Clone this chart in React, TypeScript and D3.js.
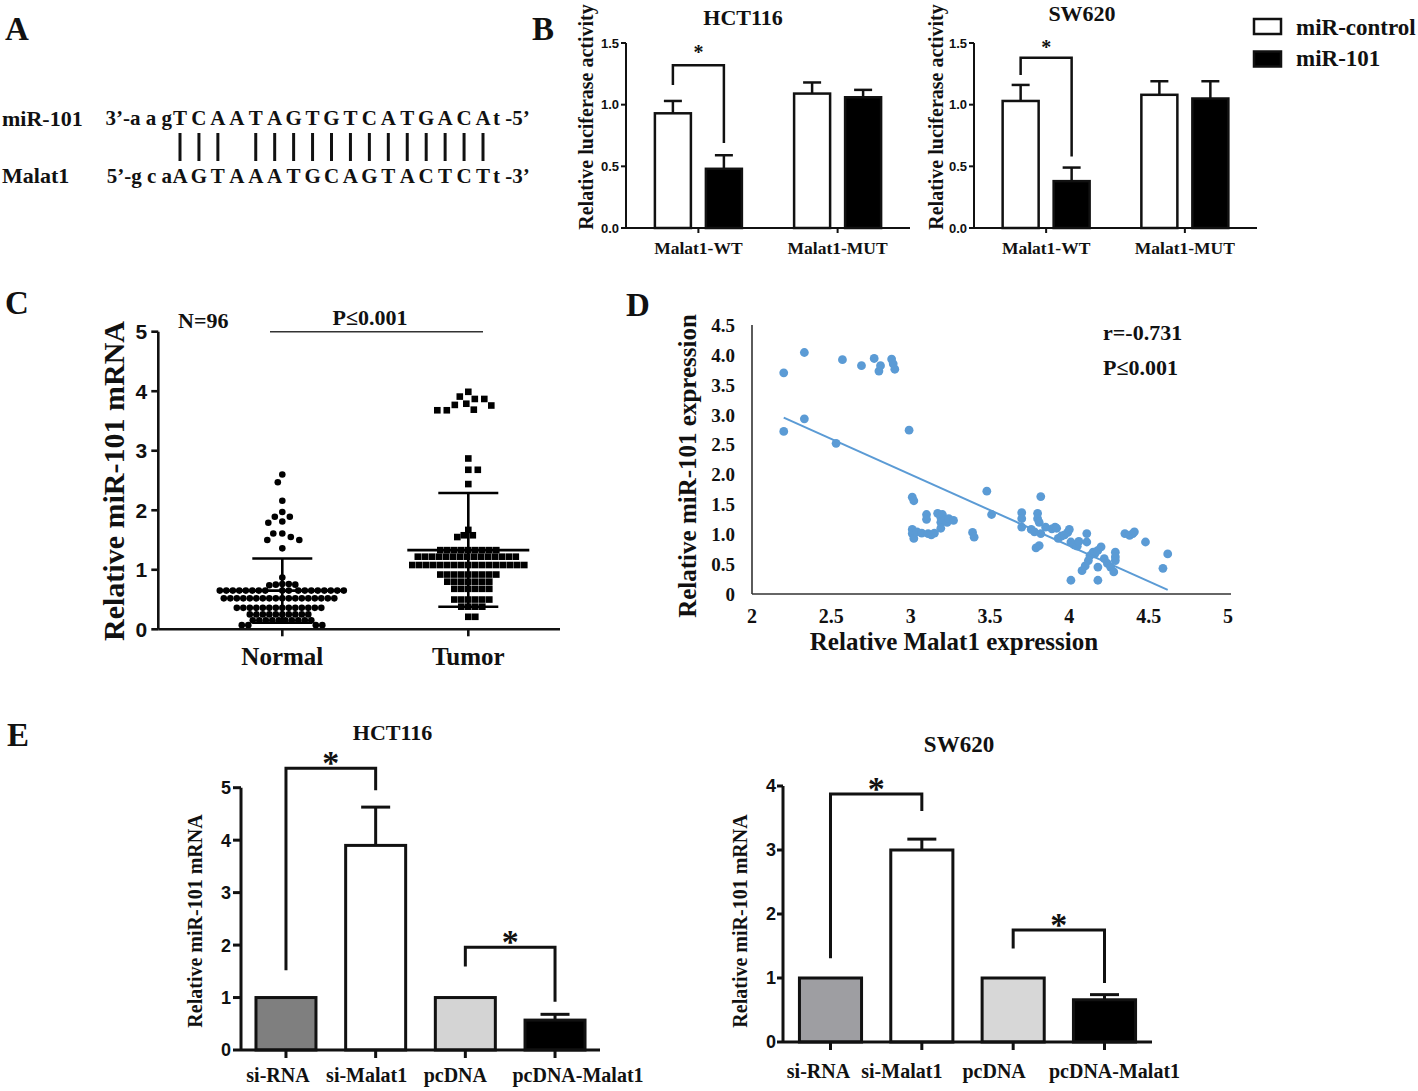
import React from "react";
import * as d3 from "d3";

const SERIF = "'Liberation Serif','Times New Roman',Times,serif";
const SANS = "'Liberation Sans',Arial,Helvetica,sans-serif";
const INK = "#111";

// ---------------- Panel A : sequence alignment ----------------
const mirLabel = "miR-101";
const malatLabel = "Malat1";
const mirPrefix = "3’-a a g";
const mirSuffix = "t -5’";
const malatPrefix = "5’-g c a";
const malatSuffix = "t -3’";
const mirCore = ["T", "C", "A", "A", "T", "A", "G", "T", "G", "T", "C", "A", "T", "G", "A", "C", "A"];
const malatCore = ["A", "G", "T", "A", "A", "A", "T", "G", "C", "A", "G", "T", "A", "C", "T", "C", "T"];
const paired = [1, 1, 1, 0, 1, 1, 1, 1, 1, 1, 1, 1, 1, 1, 1, 1, 1];

// ---------------- Panel B : luciferase ----------------
const lucGroups = ["Malat1-WT", "Malat1-MUT"];
const lucSeries = ["miR-control", "miR-101"];
const lucTicks = [0, 0.5, 1.0, 1.5];
const hctControl = [0.93, 1.09];
const hctControlErr = [0.10, 0.09];
const hctMir = [0.48, 1.06];
const hctMirErr = [0.11, 0.06];
const hctBracket = [1.16, 1.32, 0.69]; // left leg end, top, right leg end
const swControl = [1.03, 1.08];
const swControlErr = [0.13, 0.11];
const swMir = [0.38, 1.05];
const swMirErr = [0.11, 0.14];
const swBracket = [1.24, 1.38, 0.58];

// ---------------- Panel C : scatter Normal vs Tumor ----------------
const cGroups = ["Normal", "Tumor"];
const cTicks = [0, 1, 2, 3, 4, 5];
const normalValues = [
  2.60, 2.47, 2.16, 1.97, 1.89, 1.89, 1.81, 1.79, 1.61, 1.61, 1.55, 1.50, 1.50, 1.36,
  0.87,
  0.76, 0.76, 0.75, 0.75, 0.74,
  0.65, 0.65, 0.65, 0.65, 0.65, 0.65, 0.65, 0.65, 0.65, 0.65, 0.65, 0.65, 0.65, 0.65, 0.65, 0.65, 0.65, 0.65,
  0.52, 0.52, 0.52, 0.52, 0.52, 0.52, 0.52, 0.52, 0.52, 0.52, 0.52, 0.52, 0.52, 0.52, 0.52, 0.52, 0.52, 0.52,
  0.36, 0.36, 0.36, 0.36, 0.36, 0.36, 0.36, 0.36, 0.36, 0.36, 0.36, 0.36, 0.36, 0.36,
  0.25, 0.25, 0.25, 0.25, 0.25, 0.25, 0.25, 0.25, 0.25, 0.25,
  0.15, 0.15, 0.15, 0.15, 0.15, 0.15, 0.15, 0.15, 0.15, 0.15,
  0.07, 0.07, 0.07, 0.07,
];
const tumorValues = [
  3.99, 3.91, 3.87, 3.87, 3.79, 3.77, 3.76, 3.69, 3.68, 3.68,
  2.87, 2.68, 2.68, 2.44,
  1.67, 1.58, 1.58, 1.55,
  1.33, 1.33, 1.33, 1.33, 1.33, 1.33, 1.33, 1.33, 1.33,
  1.22, 1.22, 1.22, 1.22, 1.22, 1.22, 1.22, 1.22, 1.22, 1.22, 1.22, 1.22, 1.22, 1.22, 1.22,
  1.08, 1.08, 1.08, 1.08, 1.08, 1.08, 1.08, 1.08, 1.08, 1.08, 1.08, 1.08, 1.08, 1.08, 1.08, 1.08, 1.08,
  0.92, 0.92, 0.92, 0.92, 0.92, 0.92, 0.92, 0.92, 0.92,
  0.80, 0.80, 0.80, 0.80, 0.80, 0.80, 0.80,
  0.68, 0.68, 0.68, 0.68, 0.68, 0.68,
  0.50, 0.50, 0.50, 0.50, 0.50, 0.50,
  0.38, 0.38, 0.38, 0.38,
  0.21, 0.21,
];
const cMean = [0.65, 1.33];
const cSdLow = [0.11, 0.38];
const cSdHigh = [1.19, 2.29];

// ---------------- Panel D : correlation ----------------
const dXTicks = [2, 2.5, 3, 3.5, 4, 4.5, 5];
const dYTicks = [0, 0.5, 1.0, 1.5, 2.0, 2.5, 3.0, 3.5, 4.0, 4.5];
const malatExpr = [
  2.20, 2.20, 2.33, 2.33, 2.53, 2.57, 2.69, 2.77, 2.80, 2.81, 2.88, 2.89, 2.90, 2.99,
  3.01, 3.02, 3.01, 3.01, 3.02, 3.04, 3.07, 3.10, 3.10, 3.11, 3.13, 3.15, 3.17, 3.19, 3.20, 3.19, 3.21, 3.19, 3.23, 3.24, 3.27, 3.39, 3.40, 3.48, 3.51,
  3.70, 3.70, 3.70, 3.76, 3.78, 3.82, 3.80, 3.80, 3.81, 3.82, 3.79, 3.81, 3.85, 3.89, 3.91, 3.92, 3.93, 3.95, 3.97, 3.99, 4.00, 4.01, 4.03, 4.05, 4.06, 4.11, 4.11,
  4.01, 4.08, 4.10, 4.12, 4.13, 4.15, 4.16, 4.18, 4.20, 4.18, 4.18, 4.22, 4.24, 4.26, 4.28, 4.29, 4.29, 4.29,
  4.35, 4.38, 4.40, 4.41, 4.48, 4.59, 4.62,
];
const mirExpr = [
  3.70, 2.72, 4.04, 2.93, 2.52, 3.92, 3.82, 3.94, 3.73, 3.82, 3.93, 3.85, 3.76, 2.74,
  1.62, 1.56, 1.08, 1.01, 0.93, 1.04, 1.02, 1.33, 1.25, 1.01, 0.99, 1.02, 1.35, 1.28, 1.33, 1.20, 1.23, 1.10, 1.20, 1.26, 1.23, 1.03, 0.95, 1.72, 1.33,
  1.36, 1.26, 1.12, 1.08, 1.04, 1.01, 1.35, 1.26, 1.20, 1.63, 0.77, 0.81, 1.12, 1.09, 1.12, 1.10, 0.93, 0.97, 0.99, 1.03, 1.08, 0.87, 0.82, 0.80, 0.88, 1.01, 0.87,
  0.23, 0.39, 0.47, 0.56, 0.64, 0.70, 0.67, 0.73, 0.79, 0.45, 0.23, 0.59, 0.51, 0.45, 0.37, 0.56, 0.70, 0.62,
  1.01, 0.98, 1.01, 1.04, 0.87, 0.43, 0.67,
];
const trendRange = [2.2, 4.62];
const trendIntercept = 5.568;
const trendSlope = -1.19;

// ---------------- Panel E : miR-101 after Malat1 modulation ----------------
const eCats = ["si-RNA", "si-Malat1", "pcDNA", "pcDNA-Malat1"];
const hctMiR = [1.0, 3.9, 1.0, 0.57];
const hctMiRErr = [0, 0.73, 0, 0.11];
const swMiR = [1.0, 3.0, 1.0, 0.66];
const swMiRErr = [0, 0.17, 0, 0.08];
const hctFills = ["#7f7f7f", "#ffffff", "#d4d4d4", "#000000"];
const swFills = ["#9e9ea2", "#ffffff", "#d7d7d7", "#000000"];
const hctTicks = [0, 1, 2, 3, 4, 5];
const swTicks = [0, 1, 2, 3, 4];
// [leftBar, rightBar, leftLegEnd, top, rightLegEnd]
const hctBrackets = [[0, 1, 1.52, 5.37, 4.95], [2, 3, 1.59, 1.96, 0.92]];
const swBrackets = [[0, 1, 1.31, 3.875, 3.61], [2, 3, 1.46, 1.75, 0.92]];

// ---------------- helpers ----------------
// Beeswarm placement: each point takes the smallest horizontal offset that does not
// collide with points already placed. Points above the SD cap get a looser spacing.
function beeswarm(values: number[], yPos: (v: number) => number, gap: number, looseAbove: number, looseGap: number) {
  const placed: { dx: number; y: number; v: number }[] = [];
  values.forEach((v, i) => {
    const py = yPos(v);
    const first = i % 2 === 0 ? 1 : -1;
    let chosen = 0;
    outer: for (let s = 0; s < 800; s++) {
      const m = s * 0.5;
      const cands = m === 0 ? [0] : [first * m, -first * m];
      for (const c of cands) {
        let ok = true;
        for (const p of placed) {
          const g = v > looseAbove && p.v > looseAbove ? looseGap : gap;
          const a = p.dx - c;
          const b = p.y - py;
          if (a * a + b * b < g * g - 1e-6) {
            ok = false;
            break;
          }
        }
        if (ok) {
          chosen = c;
          break outer;
        }
      }
    }
    placed.push({ dx: chosen, y: py, v });
  });
  return placed;
}

function Star({ x, cy, size }: { x: number; cy: number; size: number }) {
  return (
    <text x={x} y={cy + size * 0.48} textAnchor="middle" fontFamily={SERIF} fontWeight="bold" fontSize={size} fill={INK}>
      *
    </text>
  );
}

// ---------------- Panel A ----------------
function PanelA() {
  const col = d3.scalePoint<number>().domain(d3.range(mirCore.length)).range([180, 483]);
  const fs = 21;
  return (
    <g fontFamily={SERIF} fontWeight="bold" fill={INK}>
      <text x={2} y={126} fontSize={22}>{mirLabel}</text>
      <text x={2} y={183} fontSize={22}>{malatLabel}</text>
      <text x={172} y={125} fontSize={fs} textAnchor="end">{mirPrefix}</text>
      {mirCore.map((c, i) => (
        <text key={"u" + i} x={col(i)} y={125} fontSize={fs} textAnchor="middle">{c}</text>
      ))}
      <text x={493} y={125} fontSize={fs}>{mirSuffix}</text>
      <text x={172} y={183} fontSize={fs} textAnchor="end">{malatPrefix}</text>
      {malatCore.map((c, i) => (
        <text key={"l" + i} x={col(i)} y={183} fontSize={fs} textAnchor="middle">{c}</text>
      ))}
      <text x={493} y={183} fontSize={fs}>{malatSuffix}</text>
      {paired.map((p, i) =>
        p ? <line key={"b" + i} x1={col(i)} x2={col(i)} y1={133} y2={161} stroke={INK} strokeWidth={3} /> : null
      )}
    </g>
  );
}

// ---------------- Panel B ----------------
function LucPanel(props: {
  axisX: number; axisEnd: number; title: string; titleX: number; titleBase: number;
  control: number[]; controlErr: number[]; mir: number[]; mirErr: number[]; bracket: number[];
  ylabX: number; starGap: number;
}) {
  const { axisX, axisEnd, title, titleX, titleBase, control, controlErr, mir, mirErr, bracket, ylabX, starGap } = props;
  const y = d3.scaleLinear().domain([0, 1.5]).range([228, 43]);
  const gx = d3.scalePoint<string>().domain(lucGroups).range([axisX, axisEnd]).padding(0.52);
  const sx = d3.scaleBand<string>().domain(lucSeries).range([-43.5, 43.5]).paddingInner(0.294);
  const bw = sx.bandwidth();
  const series = [
    { key: lucSeries[0], vals: control, errs: controlErr, fill: "#fff" },
    { key: lucSeries[1], vals: mir, errs: mirErr, fill: "#000" },
  ];
  const xl = (gx(lucGroups[0]) as number) + (sx(lucSeries[0]) as number) + bw / 2;
  const xr = (gx(lucGroups[0]) as number) + (sx(lucSeries[1]) as number) + bw / 2;
  return (
    <g>
      <text x={titleX} y={titleBase} textAnchor="middle" fontFamily={SERIF} fontWeight="bold" fontSize={22} fill={INK}>{title}</text>
      <text transform={`translate(${ylabX},117) rotate(-90)`} textAnchor="middle" fontFamily={SERIF} fontWeight="bold" fontSize={20} fill={INK}>
        Relative luciferase activity
      </text>
      {series.map((s) =>
        lucGroups.map((g, gi) => {
          const x0 = (gx(g) as number) + (sx(s.key) as number);
          const cx = x0 + bw / 2;
          const top = y(s.vals[gi]);
          const et = y(s.vals[gi] + s.errs[gi]);
          return (
            <g key={s.key + g}>
              <line x1={cx} x2={cx} y1={top} y2={et} stroke={INK} strokeWidth={2.5} />
              <line x1={cx - 9} x2={cx + 9} y1={et} y2={et} stroke={INK} strokeWidth={2.5} />
              <rect x={x0} y={top} width={bw} height={y(0) - top} fill={s.fill} stroke={INK} strokeWidth={2.5} />
            </g>
          );
        })
      )}
      <line x1={axisX} x2={axisX} y1={y(0)} y2={y(1.5)} stroke={INK} strokeWidth={2} />
      <line x1={axisX} x2={axisEnd} y1={y(0)} y2={y(0)} stroke={INK} strokeWidth={2} />
      {lucTicks.map((t) => (
        <g key={t}>
          <line x1={axisX - 5} x2={axisX} y1={y(t)} y2={y(t)} stroke={INK} strokeWidth={2} />
          <text x={axisX - 7} y={y(t)} dy="0.36em" textAnchor="end" fontFamily={SANS} fontWeight="bold" fontSize={13} fill={INK}>
            {t.toFixed(1)}
          </text>
        </g>
      ))}
      {lucGroups.map((g) => (
        <g key={g}>
          <line x1={gx(g)} x2={gx(g)} y1={y(0)} y2={y(0) + 5} stroke={INK} strokeWidth={2} />
          <text x={gx(g)} y={254} textAnchor="middle" fontFamily={SERIF} fontWeight="bold" fontSize={17.5} fill={INK}>{g}</text>
        </g>
      ))}
      <path d={`M${xl},${y(bracket[0])}V${y(bracket[1])}H${xr}V${y(bracket[2])}`} fill="none" stroke={INK} strokeWidth={2.5} />
      <Star x={(xl + xr) / 2} cy={y(bracket[1]) - starGap} size={20} />
    </g>
  );
}

function Legend() {
  const items = [
    { label: lucSeries[0], fill: "#fff", y: 19, base: 35 },
    { label: lucSeries[1], fill: "#000", y: 51.5, base: 66 },
  ];
  return (
    <g>
      {items.map((it) => (
        <g key={it.label}>
          <rect x={1254} y={it.y} width={27} height={15} fill={it.fill} stroke={INK} strokeWidth={2.5} />
          <text x={1296} y={it.base} fontFamily={SERIF} fontWeight="bold" fontSize={23} fill={INK}>{it.label}</text>
        </g>
      ))}
    </g>
  );
}

// ---------------- Panel C ----------------
function PanelC() {
  const y = d3.scaleLinear().domain([0, 5]).range([629.3, 331.7]);
  const x = d3.scalePoint<string>().domain(cGroups).range([282.3, 468.3]);
  const nPts = beeswarm(normalValues, y, 6.5, cSdHigh[0], 8.8);
  const tPts = beeswarm(tumorValues, y, 6.7, cSdHigh[1], 9.5);
  const axisX = 158.3;
  return (
    <g>
      <text transform={`translate(124,481) rotate(-90)`} textAnchor="middle" fontFamily={SERIF} fontWeight="bold" fontSize={30} fill={INK}>
        Relative miR-101 mRNA
      </text>
      <text x={178} y={328} fontFamily={SERIF} fontWeight="bold" fontSize={22} fill={INK}>N=96</text>
      <text x={370} y={325} textAnchor="middle" fontFamily={SERIF} fontWeight="bold" fontSize={22} fill={INK}>P≤0.001</text>
      <line x1={270} x2={483} y1={331.7} y2={331.7} stroke="#333" strokeWidth={1.5} />
      {nPts.map((p, i) => (
        <circle key={"n" + i} cx={(x("Normal") as number) + p.dx} cy={p.y} r={3.3} fill="#000" />
      ))}
      {tPts.map((p, i) => (
        <rect key={"t" + i} x={(x("Tumor") as number) + p.dx - 3.3} y={p.y - 3.3} width={6.6} height={6.6} fill="#000" />
      ))}
      {cGroups.map((g, gi) => {
        const cx = x(g) as number;
        return (
          <g key={g} stroke="#000" strokeWidth={2.6}>
            <line x1={cx} x2={cx} y1={y(cSdLow[gi])} y2={y(cSdHigh[gi])} />
            <line x1={cx - 61} x2={cx + 61} y1={y(cMean[gi])} y2={y(cMean[gi])} />
            <line x1={cx - 30} x2={cx + 30} y1={y(cSdHigh[gi])} y2={y(cSdHigh[gi])} />
            <line x1={cx - 30} x2={cx + 30} y1={y(cSdLow[gi])} y2={y(cSdLow[gi])} />
          </g>
        );
      })}
      <line x1={axisX} x2={axisX} y1={y(0)} y2={y(5)} stroke={INK} strokeWidth={2.6} />
      <line x1={axisX} x2={560} y1={y(0)} y2={y(0)} stroke={INK} strokeWidth={2.6} />
      {cTicks.map((t) => (
        <g key={t}>
          <line x1={axisX - 7} x2={axisX} y1={y(t)} y2={y(t)} stroke={INK} strokeWidth={2.6} />
          <text x={axisX - 11} y={y(t)} dy="0.36em" textAnchor="end" fontFamily={SANS} fontWeight="bold" fontSize={21} fill={INK}>{t}</text>
        </g>
      ))}
      {cGroups.map((g) => (
        <g key={g}>
          <line x1={x(g)} x2={x(g)} y1={y(0)} y2={y(0) + 7} stroke={INK} strokeWidth={2.6} />
          <text x={x(g)} y={665} textAnchor="middle" fontFamily={SERIF} fontWeight="bold" fontSize={25} fill={INK}>{g}</text>
        </g>
      ))}
    </g>
  );
}

// ---------------- Panel D ----------------
function PanelD() {
  const x = d3.scaleLinear().domain([2, 5]).range([752, 1228]);
  const y = d3.scaleLinear().domain([0, 4.5]).range([594, 325]);
  const blue = "#5b9bd5";
  const line = d3.line<number>().x((v) => x(v)).y((v) => y(trendIntercept + trendSlope * v));
  return (
    <g>
      <line x1={x(2)} x2={x(2)} y1={y(0)} y2={y(4.5)} stroke="#333" strokeWidth={1.6} />
      <line x1={x(2)} x2={1231} y1={y(0)} y2={y(0)} stroke="#333" strokeWidth={1.6} />
      {dYTicks.map((t) => (
        <text key={t} x={735} y={y(t)} dy="0.36em" textAnchor="end" fontFamily={SERIF} fontWeight="bold" fontSize={19} fill={INK}>
          {t === 0 ? "0" : t.toFixed(1)}
        </text>
      ))}
      {dXTicks.map((t) => (
        <text key={t} x={x(t)} y={623} textAnchor="middle" fontFamily={SERIF} fontWeight="bold" fontSize={20} fill={INK}>{t}</text>
      ))}
      {malatExpr.map((v, i) => (
        <circle key={i} cx={x(v)} cy={y(mirExpr[i])} r={4.4} fill={blue} />
      ))}
      <path d={line(trendRange) || ""} fill="none" stroke={blue} strokeWidth={2} />
      <text x={954} y={650} textAnchor="middle" fontFamily={SERIF} fontWeight="bold" fontSize={25} fill={INK}>Relative Malat1 expression</text>
      <text transform={`translate(696,466) rotate(-90)`} textAnchor="middle" fontFamily={SERIF} fontWeight="bold" fontSize={25} fill={INK}>
        Relative miR-101 expression
      </text>
      <text x={1103} y={340} fontFamily={SERIF} fontWeight="bold" fontSize={22} fill={INK}>r=-0.731</text>
      <text x={1103} y={375} fontFamily={SERIF} fontWeight="bold" fontSize={22} fill={INK}>P≤0.001</text>
    </g>
  );
}

// ---------------- Panel E ----------------
function MirBars(props: {
  axisX: number; axisEnd: number; y0: number; yTop: number; yMax: number; ticks: number[];
  values: number[]; errs: number[]; fills: string[]; brackets: number[][];
  pi: number; po: number; title: string; titleX: number; titleBase: number; titleSize: number;
  ylabX: number; labelShift: number[]; labelBase: number; tickLabelX: number; tickLen: number;
}) {
  const p = props;
  const y = d3.scaleLinear().domain([0, p.yMax]).range([p.y0, p.yTop]);
  const x = d3.scaleBand<string>().domain(eCats).range([p.axisX, p.axisEnd]).paddingInner(p.pi).paddingOuter(p.po);
  const bw = x.bandwidth();
  const cx = (i: number) => (x(eCats[i]) as number) + bw / 2;
  return (
    <g>
      <text x={p.titleX} y={p.titleBase} textAnchor="middle" fontFamily={SERIF} fontWeight="bold" fontSize={p.titleSize} fill={INK}>{p.title}</text>
      <text transform={`translate(${p.ylabX},921) rotate(-90)`} textAnchor="middle" fontFamily={SERIF} fontWeight="bold" fontSize={20} fill={INK}>
        Relative miR-101 mRNA
      </text>
      {eCats.map((c, i) => {
        const top = y(p.values[i]);
        const et = y(p.values[i] + p.errs[i]);
        return (
          <g key={c}>
            {p.errs[i] > 0 ? (
              <g stroke={INK} strokeWidth={3}>
                <line x1={cx(i)} x2={cx(i)} y1={top} y2={et} />
                <line x1={cx(i) - 14.5} x2={cx(i) + 14.5} y1={et} y2={et} />
              </g>
            ) : null}
            <rect x={x(c)} y={top} width={bw} height={p.y0 - top} fill={p.fills[i]} stroke={INK} strokeWidth={3} />
          </g>
        );
      })}
      <line x1={p.axisX} x2={p.axisX} y1={p.y0} y2={p.yTop} stroke={INK} strokeWidth={3} />
      <line x1={p.axisX} x2={p.axisEnd} y1={p.y0} y2={p.y0} stroke={INK} strokeWidth={3} />
      {p.ticks.map((t) => (
        <g key={t}>
          <line x1={p.axisX - p.tickLen} x2={p.axisX} y1={y(t)} y2={y(t)} stroke={INK} strokeWidth={3} />
          <text x={p.tickLabelX} y={y(t)} dy="0.36em" textAnchor="end" fontFamily={SANS} fontWeight="bold" fontSize={18} fill={INK}>{t}</text>
        </g>
      ))}
      {eCats.map((c, i) => (
        <g key={"l" + c}>
          <line x1={cx(i)} x2={cx(i)} y1={p.y0} y2={p.y0 + 8} stroke={INK} strokeWidth={3} />
          <text x={cx(i) + p.labelShift[i]} y={p.labelBase} textAnchor="middle" fontFamily={SERIF} fontWeight="bold" fontSize={20} fill={INK}>{c}</text>
        </g>
      ))}
      {p.brackets.map((b, k) => {
        const xl = cx(b[0]);
        const xr = cx(b[1]);
        return (
          <g key={"br" + k}>
            <path d={`M${xl},${y(b[2])}V${y(b[3])}H${xr}V${y(b[4])}`} fill="none" stroke={INK} strokeWidth={3} />
            <Star x={(xl + xr) / 2} cy={y(b[3]) - 10.5} size={34} />
          </g>
        );
      })}
    </g>
  );
}

function PanelLetter({ x, y, t }: { x: number; y: number; t: string }) {
  return (
    <text x={x} y={y} fontFamily={SERIF} fontWeight="bold" fontSize={33} fill={INK}>{t}</text>
  );
}

export default function App() {
  return (
    <svg
      width={1418}
      height={1091}
      viewBox="0 0 1418 1091"
      style={{ position: "absolute", left: 0, top: 0, display: "block", background: "#fff" }}
    >
      <rect width={1418} height={1091} fill="#fff" />
      <PanelLetter x={5} y={40} t="A" />
      <PanelLetter x={532} y={40} t="B" />
      <PanelLetter x={5} y={314} t="C" />
      <PanelLetter x={626} y={316} t="D" />
      <PanelLetter x={7} y={746} t="E" />
      <PanelA />
      <LucPanel
        axisX={626} axisEnd={910} title="HCT116" titleX={743} titleBase={25}
        control={hctControl} controlErr={hctControlErr} mir={hctMir} mirErr={hctMirErr}
        bracket={hctBracket} ylabX={593} starGap={15.5}
      />
      <LucPanel
        axisX={974} axisEnd={1257} title="SW620" titleX={1082} titleBase={21}
        control={swControl} controlErr={swControlErr} mir={swMir} mirErr={swMirErr}
        bracket={swBracket} ylabX={943} starGap={13.5}
      />
      <Legend />
      <PanelC />
      <PanelD />
      <MirBars
        axisX={241} axisEnd={600} y0={1050} yTop={787.7} yMax={5} ticks={hctTicks}
        values={hctMiR} errs={hctMiRErr} fills={hctFills} brackets={hctBrackets}
        pi={0.331} po={0.167} title="HCT116" titleX={392.5} titleBase={740} titleSize={22}
        ylabX={202} labelShift={[-8, -9, -10, 23]} labelBase={1082} tickLabelX={231} tickLen={8}
      />
      <MirBars
        axisX={783} axisEnd={1152} y0={1042} yTop={786} yMax={4} ticks={swTicks}
        values={swMiR} errs={swMiRErr} fills={swFills} brackets={swBrackets}
        pi={0.32} po={0.18} title="SW620" titleX={959} titleBase={752} titleSize={23}
        ylabX={747} labelShift={[-12, -20, -19, 10]} labelBase={1078} tickLabelX={776} tickLen={6}
      />
    </svg>
  );
}
